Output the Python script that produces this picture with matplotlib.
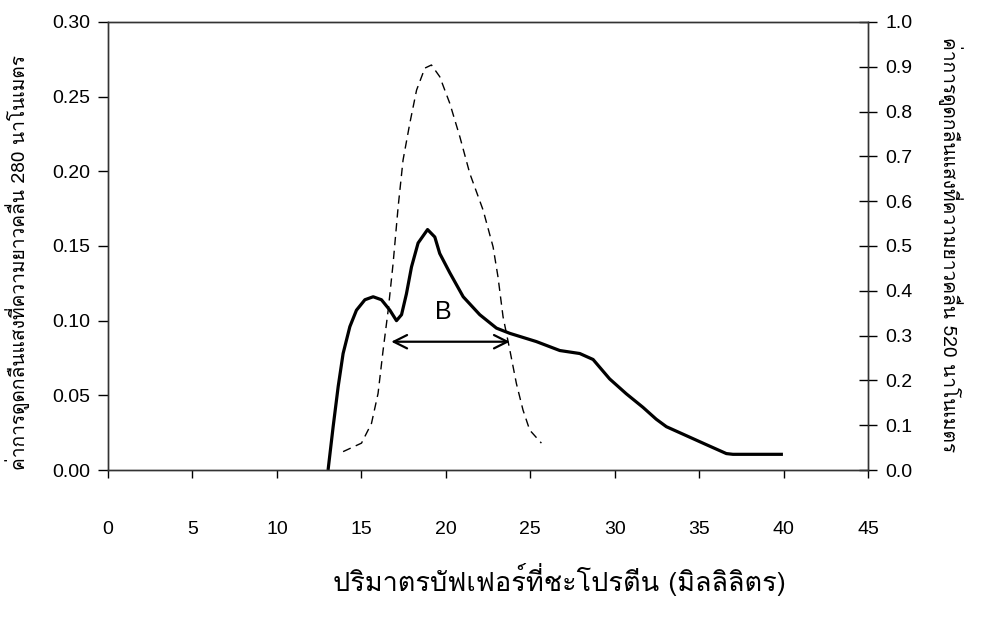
import matplotlib
matplotlib.use("Agg")
import matplotlib.pyplot as plt
from matplotlib import font_manager
from matplotlib.ft2font import FT2Font

# absorbance at 280 nm (left axis, solid)
vol_280 = [13.03, 13.33, 13.63, 13.92, 14.32, 14.71, 15.21, 15.70, 16.19, 16.69, 17.08, 17.38,
           17.67, 17.97, 18.36, 18.92, 19.35, 19.64, 20.24, 21.03, 22.01, 23.00, 23.79, 25.36,
           26.75, 27.93, 28.72, 29.70, 30.69, 31.67, 32.46, 33.06, 34.24, 35.42, 36.61, 37.00, 39.96]
abs_280 = [0.000, 0.029, 0.056, 0.078, 0.096, 0.107, 0.114, 0.116, 0.114, 0.107, 0.100, 0.104,
           0.118, 0.136, 0.152, 0.161, 0.156, 0.145, 0.132, 0.116, 0.104, 0.095, 0.0915, 0.086,
           0.080, 0.078, 0.074, 0.061, 0.051, 0.042, 0.034, 0.029, 0.023, 0.017, 0.011, 0.0105, 0.0105]

# absorbance at 520 nm (right axis, dashed)
vol_520 = [13.92, 15.01, 15.60, 15.99, 16.29, 16.59, 16.88, 17.18, 17.47, 17.87, 18.27, 18.76,
           19.15, 19.64, 20.24, 20.83, 21.42, 22.21, 22.80, 23.09, 23.39, 23.79, 24.18, 24.57,
           24.97, 25.66]
abs_520 = [0.041, 0.060, 0.104, 0.171, 0.268, 0.357, 0.461, 0.588, 0.692, 0.774, 0.848, 0.897,
           0.904, 0.878, 0.818, 0.744, 0.662, 0.580, 0.498, 0.431, 0.342, 0.268, 0.193, 0.134,
           0.089, 0.060]

# pooled fraction B
pool_start, pool_end, pool_level = 16.77, 23.79, 0.0859
pool_label = "B"
pool_label_x, pool_label_y = 19.84, 0.106

x_ticks = [0, 5, 10, 15, 20, 25, 30, 35, 40, 45]
left_ticks = [0.00, 0.05, 0.10, 0.15, 0.20, 0.25, 0.30]
right_ticks = [0.0, 0.1, 0.2, 0.3, 0.4, 0.5, 0.6, 0.7, 0.8, 0.9, 1.0]

xlabel = "ปริมาตรบัฟเฟอร์ที่ชะโปรตีน (มิลลิลิตร)"
ylabel_left = "ค่าการดูดกลืนแสงที่ความยาวคลื่น 280 นาโนเมตร"
ylabel_right = "ค่าการดูดกลืนแสงที่ความยาวคลื่น 520 นาโนเมตร"

# look for any installed font that has Thai glyphs
thai_font = None
for f in font_manager.fontManager.ttflist:
    try:
        if 0x0E1B in FT2Font(f.fname).get_charmap():
            thai_font = f.name
            break
    except Exception:
        pass
thai_family = [thai_font, "DejaVu Sans"] if thai_font else ["DejaVu Sans"]

plt.rcParams['font.family'] = ["Liberation Sans", "DejaVu Sans"]

fig = plt.figure(figsize=(9.89, 6.26), dpi=100)
ax = fig.add_axes([0.1092, 0.2492, 0.7685, 0.7157])
ax2 = ax.twinx()

ax.plot(vol_280, abs_280, color="black", lw=2.3, solid_joinstyle="round", solid_capstyle="butt")
ax2.plot(vol_520, abs_520, color="black", lw=1.0, dashes=(6, 4))

ax.annotate("", xy=(pool_end, pool_level), xytext=(pool_start, pool_level),
            arrowprops=dict(arrowstyle="<->", lw=1.6, color="black", mutation_scale=24,
                            shrinkA=0, shrinkB=0))
ax.text(pool_label_x, pool_label_y, pool_label, fontsize=18, ha="center", va="center")

ax.set_xlim(0, 45)
ax.set_ylim(0, 0.30)
ax2.set_ylim(0, 1.0)

ax.set_xticks(x_ticks)
ax.set_xticklabels([str(v) for v in x_ticks])
ax.set_yticks(left_ticks)
ax.set_yticklabels(["%.2f" % v for v in left_ticks])
ax2.set_yticks(right_ticks)
ax2.set_yticklabels(["%.1f" % v for v in right_ticks])

ax.tick_params(axis="x", direction="out", length=6, width=1, pad=31, labelsize=14)
ax.tick_params(axis="y", direction="out", length=7, width=1, pad=6, labelsize=14)
ax2.tick_params(axis="y", direction="inout", length=13, width=1, pad=6, labelsize=14)

for a in (ax, ax2):
    for s in a.spines.values():
        s.set_linewidth(1.0)
        s.set_color("#333333")

fig.text(559 / 989, 1 - 580 / 626, xlabel, family=thai_family, fontsize=19.5,
         ha="center", va="center")
fig.text(18 / 989, 1 - 262 / 626, ylabel_left, family=thai_family, fontsize=13.8,
         rotation=90, ha="center", va="center")
fig.text(950 / 989, 1 - 245 / 626, ylabel_right, family=thai_family, fontsize=13.8,
         rotation=270, ha="center", va="center")

fig.savefig("out.png", dpi=100)
